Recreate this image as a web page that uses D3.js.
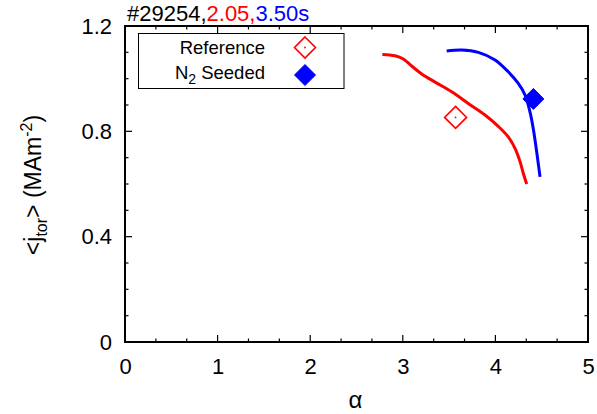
<!DOCTYPE html>
<html>
<head>
<meta charset="utf-8">
<script src="https://cdn.jsdelivr.net/npm/d3@7"></script>
<style>
  body { margin: 0; background: #fff; }
  svg { display: block; font-family: "Liberation Sans", Arial, sans-serif; }
</style>
</head>
<body>
<svg id="chart" width="597" height="414"></svg>
<script>
// Profile curves: alpha vs flux-surface averaged toroidal current density
const refAlpha = [2.779, 2.916, 3.005, 3.096, 3.204, 3.348, 3.528, 3.707, 3.888, 4.031, 4.139, 4.212, 4.266, 4.301, 4.338];
const refJtor  = [1.092, 1.087, 1.075, 1.048, 1.018, 0.987, 0.950, 0.906, 0.862, 0.819, 0.779, 0.735, 0.685, 0.641, 0.600];
const seedAlpha = [3.474, 3.636, 3.816, 3.996, 4.139, 4.247, 4.320, 4.374, 4.409, 4.446, 4.482];
const seedJtor  = [1.105, 1.109, 1.100, 1.071, 1.026, 0.982, 0.938, 0.873, 0.810, 0.722, 0.627];

// Single-point markers
const refPoint  = [3.57, 0.853];
const seedPoint = [4.41, 0.923];

const xTicks = [0, 1, 2, 3, 4, 5];
const yTicks = [0, 0.4, 0.8, 1.2];
const seriesNames = ["Reference", "N\u2082 Seeded"];
const titleParts = [["#29254,", "#000"], ["2.05,", "#ff0000"], ["3.50s", "#0000ff"]];

const svg = d3.select("#chart");
const m = { left: 125, right: 588, top: 26, bottom: 342 };

const x = d3.scaleLinear().domain([0, 5]).range([m.left, m.right]);
const y = d3.scaleLinear().domain([0, 1.2]).range([m.bottom, m.top]);

// Minor ticks: thirds on x, tenths on y
const xMinor = d3.range(0, 5.0001, 1 / 3).filter(v => !xTicks.some(t => Math.abs(t - v) < 1e-6));
const yMinor = d3.range(0, 1.2001, 0.1).filter(v => !yTicks.some(t => Math.abs(t - v) < 1e-6));

const tickG = svg.append("g").attr("stroke", "#000").attr("stroke-width", 1.2);
function vTicks(vals, len) {
  vals.forEach(v => {
    tickG.append("line").attr("x1", x(v)).attr("x2", x(v)).attr("y1", m.bottom).attr("y2", m.bottom - len);
    tickG.append("line").attr("x1", x(v)).attr("x2", x(v)).attr("y1", m.top).attr("y2", m.top + len);
  });
}
function hTicks(vals, len) {
  vals.forEach(v => {
    tickG.append("line").attr("y1", y(v)).attr("y2", y(v)).attr("x1", m.left).attr("x2", m.left + len);
    tickG.append("line").attr("y1", y(v)).attr("y2", y(v)).attr("x1", m.right).attr("x2", m.right - len);
  });
}
vTicks(xTicks, 7); vTicks(xMinor, 3.5);
hTicks(yTicks, 7); hTicks(yMinor, 3.5);

// Tick labels via d3 axes (lines hidden; frame drawn separately)
const xAxis = svg.append("g").attr("transform", `translate(0,${m.bottom})`)
  .call(d3.axisBottom(x).tickValues(xTicks).tickFormat(d3.format("d")).tickSize(0).tickPadding(16));
const yAxis = svg.append("g").attr("transform", `translate(${m.left},0)`)
  .call(d3.axisLeft(y).tickValues(yTicks).tickFormat(d => d === 0 ? "0" : d3.format(".1f")(d)).tickSize(0).tickPadding(13));
[xAxis, yAxis].forEach(a => {
  a.select(".domain").remove();
  a.selectAll("text").attr("font-size", 22).attr("fill", "#000").attr("font-family", "Liberation Sans, Arial, sans-serif");
});
xAxis.selectAll("text").attr("dy", "0.71em");

// Frame
svg.append("rect")
  .attr("x", m.left).attr("y", m.top)
  .attr("width", m.right - m.left).attr("height", m.bottom - m.top)
  .attr("fill", "none").attr("stroke", "#000").attr("stroke-width", 2);

// Curves
const line = d3.line().x(d => x(d[0])).y(d => y(d[1])).curve(d3.curveCatmullRom);
svg.append("path").datum(d3.zip(refAlpha, refJtor))
  .attr("d", line).attr("fill", "none").attr("stroke", "#ff0000").attr("stroke-width", 3);
svg.append("path").datum(d3.zip(seedAlpha, seedJtor))
  .attr("d", line).attr("fill", "none").attr("stroke", "#0000ff").attr("stroke-width", 3);

// Diamond markers
function diamond(g, cx, cy, r, filled, color) {
  g.append("path")
    .attr("d", `M${cx},${cy - r}L${cx + r},${cy}L${cx},${cy + r}L${cx - r},${cy}Z`)
    .attr("fill", filled ? color : "#fff")
    .attr("stroke", color).attr("stroke-width", filled ? 1 : 1.6);
  if (!filled) g.append("circle").attr("cx", cx).attr("cy", cy).attr("r", 0.9).attr("fill", color);
}
diamond(svg, x(refPoint[0]), y(refPoint[1]), 11, false, "#ff0000");
diamond(svg, x(seedPoint[0]), y(seedPoint[1]), 10.5, true, "#0000ff");

// Legend
const lg = svg.append("g");
lg.append("rect").attr("x", 138.5).attr("y", 33.5).attr("width", 205.5).attr("height", 55)
  .attr("fill", "#fff").attr("stroke", "#000").attr("stroke-width", 1);
lg.append("text").attr("x", 265).attr("y", 53.5).attr("text-anchor", "end")
  .attr("font-size", 18.5).text(seriesNames[0]);
const t2 = lg.append("text").attr("x", 265).attr("y", 78.5).attr("text-anchor", "end").attr("font-size", 18.5);
t2.append("tspan").text("N");
t2.append("tspan").attr("font-size", 14).attr("dy", 5).text("2");
t2.append("tspan").attr("dy", -5).text(" Seeded");
diamond(lg, 305, 47.5, 10.5, false, "#ff0000");
diamond(lg, 305, 75, 10.5, true, "#0000ff");

// Title
const title = svg.append("text").attr("x", 127).attr("y", 20.5).attr("font-size", 22);
titleParts.forEach(([s, c]) => title.append("tspan").attr("fill", c).text(s));

// Axis titles
svg.append("text").attr("x", (m.left + m.right) / 2 - 1).attr("y", 408).attr("text-anchor", "middle")
  .attr("font-size", 24).text("\u03b1");
const yl = svg.append("text").attr("transform", `translate(41,${(m.top + m.bottom) / 2 + 1}) rotate(-90)`)
  .attr("text-anchor", "middle").attr("font-size", 23);
yl.append("tspan").text("<j");
yl.append("tspan").attr("font-size", 16).attr("dy", 6).text("tor");
yl.append("tspan").attr("dy", -6).text("> (MAm");
yl.append("tspan").attr("font-size", 16).attr("dy", -9).text("-2");
yl.append("tspan").attr("dy", 9).text(")");
</script>
</body>
</html>
